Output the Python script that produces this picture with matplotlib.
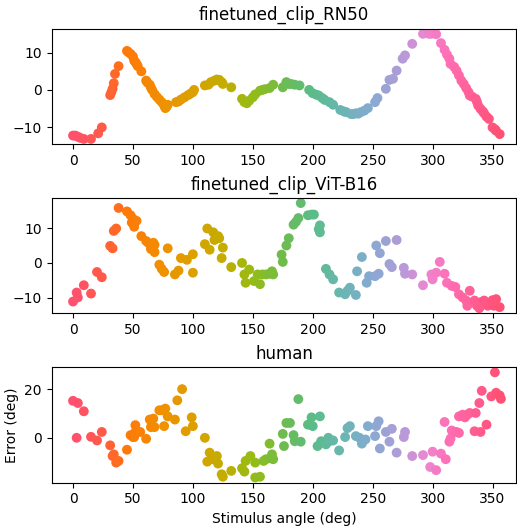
import matplotlib
matplotlib.use("Agg")
import matplotlib.pyplot as plt
import numpy as np
from matplotlib.colors import LinearSegmentedColormap

# finetuned_clip_RN50
rn50_angle = [0, 2, 4, 6, 9, 15, 21, 24, 31, 32, 33, 34, 35, 38, 45, 46, 48, 50, 51, 52,
              53, 54, 57, 61, 62, 64, 65, 66, 68, 70, 72, 74, 76, 77, 78, 79, 86, 88, 90, 93,
              96, 98, 100, 101, 110, 113, 115, 118, 120, 122, 124, 125, 132, 141, 143, 145, 147, 150, 152, 156,
              158, 160, 164, 167, 175, 178, 180, 182, 185, 189, 197, 200, 203, 205, 208, 210, 214, 217, 223, 226,
              228, 232, 234, 236, 238, 240, 243, 246, 252, 254, 261, 264, 267, 270, 275, 277, 283, 292, 297, 299,
              303, 307, 310, 312, 314, 315, 318, 320, 322, 324, 326, 328, 330, 331, 333, 336, 337, 338, 340, 342,
              343, 345, 347, 350, 352, 353, 356]
rn50_err = [-12.3, -12.3, -12.6, -12.9, -13.2, -13.2, -11.7, -10.1, -1.4, -0.6, 0.3, 1.8, 4.3, 6.4, 10.5, 10.2, 9.7, 9.0, 7.9, 7.5,
            7.0, 6.4, 5.0, 2.5, 2.0, 1.4, 0.6, 0.0, -1.1, -1.9, -2.6, -3.3, -4.2, -4.9, -4.6, -4.0, -3.3, -3.1, -2.6, -2.0,
            -1.4, -1.0, -0.6, 0.0, 1.2, 1.4, 2.1, 2.5, 2.8, 2.7, 2.1, 1.6, 0.7, -2.4, -3.3, -3.6, -2.9, -2.0, -1.2, -0.2,
            0.0, 0.2, 0.5, 1.4, 0.7, 2.1, 1.6, 1.6, 1.4, 1.2, 0.0, -0.9, -1.3, -1.5, -2.2, -2.7, -3.3, -4.0, -5.4, -5.8,
            -6.0, -6.5, -6.5, -6.3, -6.4, -6.0, -5.6, -4.9, -3.3, -2.2, 0.3, 2.7, 3.0, 5.2, 8.4, 9.3, 12.4, 15.1, 15.1, 15.1,
            15.0, 12.6, 10.8, 9.5, 8.4, 7.0, 6.2, 5.2, 3.9, 2.5, 1.6, 0.5, -0.6, -1.5, -1.8, -2.4, -3.2, -4.2, -5.1, -5.8,
            -6.3, -7.2, -7.8, -10.1, -10.6, -11.0, -11.9]

# finetuned_clip_ViT-B16
vit_angle = [0, 3, 4, 9, 15, 20, 24, 31, 33, 34, 36, 38, 45, 48, 49, 50, 51, 53, 57, 61,
             63, 65, 67, 68, 68, 72, 74, 76, 79, 85, 88, 90, 95, 100, 100, 110, 112, 114, 117, 118,
             121, 122, 124, 125, 132, 141, 143, 144, 147, 151, 154, 156, 158, 161, 164, 166, 167, 174, 175, 178,
             180, 184, 186, 188, 190, 196, 199, 201, 205, 206, 206, 211, 214, 217, 222, 227, 229, 231, 236, 237,
             241, 245, 247, 252, 253, 255, 256, 261, 264, 266, 270, 276, 277, 283, 292, 299, 300, 303, 306, 310,
             312, 316, 319, 322, 325, 328, 329, 331, 335, 337, 339, 340, 343, 346, 350, 351, 353, 356]
vit_err = [-11.1, -8.5, -9.9, -6.4, -8.8, -2.6, -4.1, 4.9, 4.2, 9.2, 9.9, 15.8, 14.8, 13.7, 11.6, 12.7, 10.4, 12.1, 7.7, 6.3,
           5.7, 4.0, 5.8, 5.2, 3.1, -0.5, -1.7, -2.6, 4.2, -3.3, -2.2, 1.4, 0.9, 2.5, -2.8, 5.4, 9.9, 3.8, 8.8, 6.6,
           7.7, 7.1, 1.4, 4.4, -1.2, 0.0, -3.3, -5.7, -1.9, -5.2, -3.3, -6.1, -3.3, -3.3, -3.1, -2.4, -3.3, 2.4, 0.3, 5.0,
           7.1, 11.0, 11.8, 12.9, 17.2, 13.7, 13.9, 13.9, 9.7, 10.8, 8.8, -1.7, -3.3, -4.7, -8.5, -9.0, -8.0, -7.1, -9.2, -2.4,
           1.7, -5.7, -3.8, -3.8, 5.0, -3.1, 2.8, 6.3, -0.3, -1.2, 6.6, -1.4, -3.1, -3.3, -6.4, -3.3, -4.7, -2.8, 0.3, -3.1,
           -5.7, -6.6, -6.9, -9.0, -9.9, -10.8, -12.3, -8.0, -10.8, -12.3, -13.0, -11.3, -10.8, -12.3, -10.7, -12.3, -10.4, -12.7]

# human
human_angle = [0, 3, 4, 9, 15, 20, 24, 31, 33, 34, 36, 38, 45, 48, 50, 51, 52, 52, 56, 61,
               64, 65, 67, 68, 72, 74, 76, 77, 79, 85, 87, 91, 94, 99, 100, 110, 112, 114, 117, 120,
               121, 124, 125, 132, 141, 143, 144, 148, 152, 152, 156, 159, 161, 164, 165, 166, 167, 175, 176, 178,
               181, 184, 185, 188, 190, 196, 199, 200, 204, 206, 207, 211, 213, 214, 217, 222, 227, 229, 231, 236,
               239, 241, 244, 246, 252, 253, 255, 256, 261, 264, 266, 270, 276, 277, 283, 292, 298, 300, 303, 307,
               310, 311, 314, 315, 316, 320, 322, 322, 325, 327, 329, 331, 335, 336, 339, 340, 341, 345, 349, 352,
               353, 356, 357]
human_err = [15.2, 0.0, 14.3, 10.9, 0.4, -1.1, 2.4, -3.1, -7.5, -6.8, -10.2, -9.5, -4.9, 1.1, 0.3, 0.3, 5.2, 2.4, 2.4, -0.4,
             7.5, 4.4, 7.9, 4.4, 11.3, 11.3, 4.8, 12.0, 8.8, 7.5, 15.4, 20.0, 2.7, 8.4, 4.8, 0.0, -9.8, -6.1, -8.8, -7.5,
             -10.6, -15.0, -16.0, -13.6, -12.5, -13.9, -9.5, -7.5, -10.2, -16.3, -16.0, -9.5, -8.8, -2.4, -8.4, -6.8, -8.8, 1.6, -3.4, 6.1,
             6.1, 1.1, -1.4, 15.9, -1.6, 5.4, 8.4, 4.8, -3.4, 8.8, -1.4, -2.7, 0.0, -1.4, -1.1, -5.2, 0.3, 4.0, 4.8, 0.7,
             0.0, -2.4, -0.7, 4.8, 0.7, 4.8, 6.8, -4.4, 2.4, -1.6, 3.7, -6.1, 0.3, 2.4, -7.5, -7.1, -12.0, -5.7, -13.3, -6.5,
             6.5, -8.8, -1.6, -0.3, 3.0, 2.4, 2.0, 8.8, 9.5, 8.4, 9.5, 10.2, 2.7, 10.2, 14.3, 2.4, 19.3, 5.4, 17.0, 26.9,
             18.5, 17.4, 16.0]

panels = [("finetuned_clip_RN50", rn50_angle, rn50_err),
          ("finetuned_clip_ViT-B16", vit_angle, vit_err),
          ("human", human_angle, human_err)]

# circular colour wheel over the stimulus angle
wheel = [(0, "#ff5070"), (25, "#ff5a46"), (45, "#ff780a"), (75, "#f09000"),
         (100, "#dca000"), (125, "#c3ac00"), (150, "#96bc14"), (175, "#6ebc4b"),
         (200, "#5abc87"), (225, "#69b6b2"), (250, "#87aad2"), (275, "#b49bd7"),
         (295, "#eb87d2"), (315, "#ff6eb4"), (340, "#ff5a8c"), (360, "#ff5070")]
cmap = LinearSegmentedColormap.from_list("angle_wheel", [(a / 360, c) for a, c in wheel])

fig, axes = plt.subplots(3, 1, figsize=(5.17, 5.29))
fig.subplots_adjust(left=0.1, right=0.999, top=0.946, bottom=0.0875, hspace=0.464)

for ax, (title, ang, err) in zip(axes, panels):
    ang = np.array(ang)
    ax.scatter(ang, err, c=ang, cmap=cmap, vmin=0, vmax=360, s=50, linewidths=0)
    ax.set_title(title)
    ax.set_xlim(-17.8, 370)
    ax.set_xticks([0, 50, 100, 150, 200, 250, 300, 350])

axes[2].set_xlabel("Stimulus angle (deg)")
axes[2].set_ylabel("Error (deg)")

fig.savefig("out.png", dpi=100)
